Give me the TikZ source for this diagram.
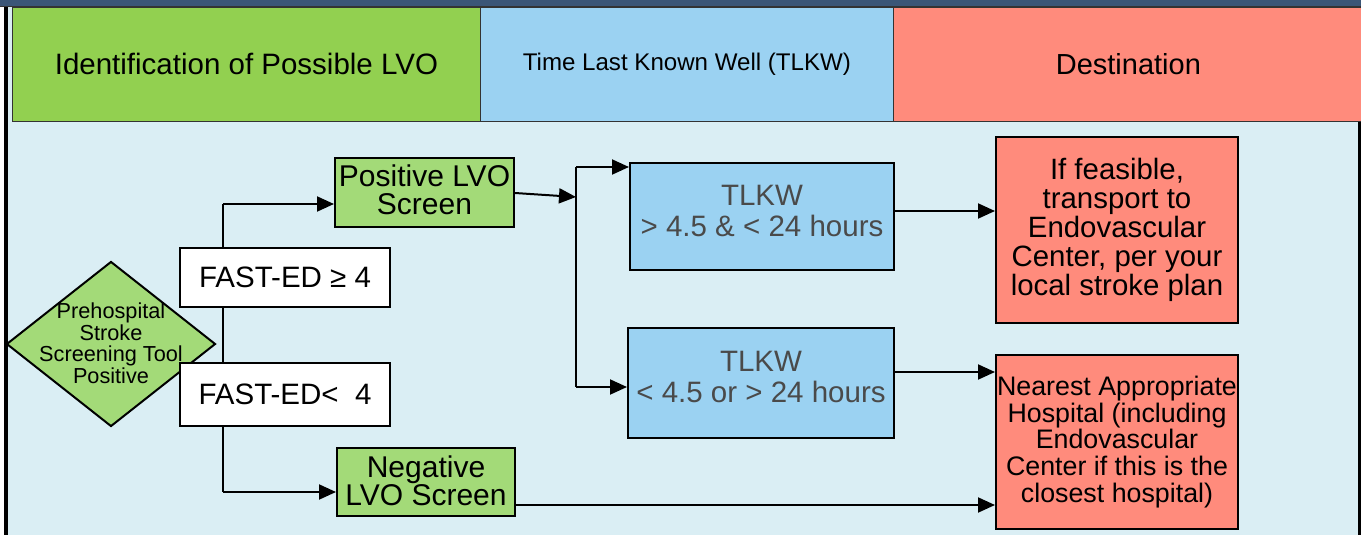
\documentclass[tikz,border=0pt]{standalone}
\usepackage{fontspec}
\setmainfont{Liberation Sans}
\usetikzlibrary{shapes.geometric,arrows.meta}
\definecolor{topbar}{HTML}{3B5677}
\definecolor{bodybg}{HTML}{DAEEF4}
\definecolor{hgreen}{HTML}{92D050}
\definecolor{hblue}{HTML}{9BD2F2}
\definecolor{hred}{HTML}{FF8B7C}
\definecolor{ngreen}{HTML}{A3DA78}
\definecolor{nblue}{HTML}{9BD2F2}
\definecolor{nred}{HTML}{FF8B7C}
\definecolor{tgray}{HTML}{4A4A4A}
\tikzset{
  x=1pt,y=-1pt,
  hdr/.style={draw=black!80,line width=0.8pt,anchor=north west,inner sep=0pt,align=center},
  box/.style={draw=black,line width=2pt,inner sep=0pt,align=center},
  gbox/.style={box,fill=ngreen},
  gtext/.style={align=center,inner sep=0pt,font=\fontsize{30}{28}\selectfont},
  wbox/.style={box,fill=white,font=\fontsize{29.5}{28}\selectfont},
  bbox/.style={box,fill=nblue},
  btext/.style={align=center,inner sep=0pt,text=tgray,font=\fontsize{29.5}{31}\selectfont},
  rbox/.style={box,fill=nred,font=\fontsize{29.4}{29}\selectfont},
  conn/.style={line width=2pt,black},
  arr/.style={conn,-{Triangle[length=17pt,width=15pt]}}
}
\begin{document}
\begin{tikzpicture}
\useasboundingbox (0,0) rectangle (1361,535);
% background
\fill[bodybg] (0,0) rectangle (1361,535);
\fill[white] (0,0) rectangle (4,535);
\fill[topbar] (0,0) rectangle (1361,7);
\draw[black!80,line width=1pt] (0,6.5) -- (1361,6.5);
\fill[black] (4,7) rectangle (8,535);
\fill[black] (1358,121) rectangle (1361,535);
% header
\node[hdr,fill=hgreen,minimum width=468pt,minimum height=114pt,font=\fontsize{29.5}{30}\selectfont] (h1) at (12,7) {Identification of Possible LVO};
\node[hdr,fill=hblue,minimum width=413pt,minimum height=114pt,font=\fontsize{24.1}{26}\selectfont] (h2) at (480,7) {Time Last Known Well (TLKW)};
\node[hdr,fill=hred,minimum width=470pt,minimum height=114pt,font=\fontsize{29}{30}\selectfont] (h3) at (893,7) {Destination};
% diamond
\node[diamond,draw=black,line width=2pt,fill=ngreen,inner sep=0pt,minimum width=209pt,minimum height=165pt] (d) at (111,344) {};
\node[align=center,inner sep=0pt,font=\fontsize{21.7}{21.5}\selectfont] (dt) at (111,343) {Prehospital\\Stroke\\Screening Tool\\Positive};
% junction coordinates
\coordinate (j1) at (223,204);
\coordinate (j2) at (223,492);
\draw[conn] (j1) -- (j2);
% left boxes
\node[wbox,minimum width=210pt,minimum height=59pt] (f1) at (285,277.5) {FAST-ED ≥ 4};
\node[wbox,minimum width=210pt,minimum height=63pt] (f2) at (285,394.5) {FAST-ED<\ \ 4};
\node[gbox,minimum width=179pt,minimum height=69pt] (pos) at (424.5,192.5) {};
\node[gtext] (post) at ([yshift=3pt]pos.center) {Positive LVO\\Screen};
\node[gbox,minimum width=178pt,minimum height=68pt] (neg) at (426,482) {};
\node[gtext] (negt) at ([yshift=1pt]neg.center) {Negative\\LVO Screen};
% TLKW boxes
\node[bbox,minimum width=264pt,minimum height=107pt] (t1) at (762,216.5) {};
\node[btext] (t1t) at ([yshift=6pt]t1.center) {TLKW\\> 4.5 \& < 24 hours};
\node[bbox,minimum width=266pt,minimum height=110pt] (t2) at (761,383) {};
\node[btext] (t2t) at ([yshift=6pt]t2.center) {TLKW\\< 4.5 or > 24 hours};
% destination boxes
\node[rbox,minimum width=242pt,minimum height=186pt] (r1) at (1117,230) {If feasible,\\transport to\\Endovascular\\Center, per your\\local stroke plan};
\node[rbox,minimum width=242pt,minimum height=174pt,font=\fontsize{26.8}{26.9}\selectfont] (r2) at (1117,442) {Nearest Appropriate\\Hospital (including\\Endovascular\\Center if this is the\\closest hospital)};
% connectors
\draw[arr] (j1) -- (j1 -| pos.west);
\draw[arr] (j2) -- (j2 -| neg.west);
\coordinate (k) at (576,197);
\coordinate (k1) at (576,167);
\coordinate (k2) at (576,387);
\draw[arr] ([yshift=-0.5pt]pos.east) -- (k);
\draw[conn] (k1) -- (k2);
\draw[arr] (k1) -- (k1 -| t1.west);
\draw[arr] (k2) -- (k2 -| t2.west);
\coordinate (m1) at (894,211);
\coordinate (m2) at (894,372);
\coordinate (m3) at (515,505);
\draw[arr] (m1) -- (m1 -| r1.west);
\draw[arr] (m2) -- (m2 -| r2.west);
\draw[arr] (m3) -- (m3 -| r2.west);
\end{tikzpicture}
\end{document}
